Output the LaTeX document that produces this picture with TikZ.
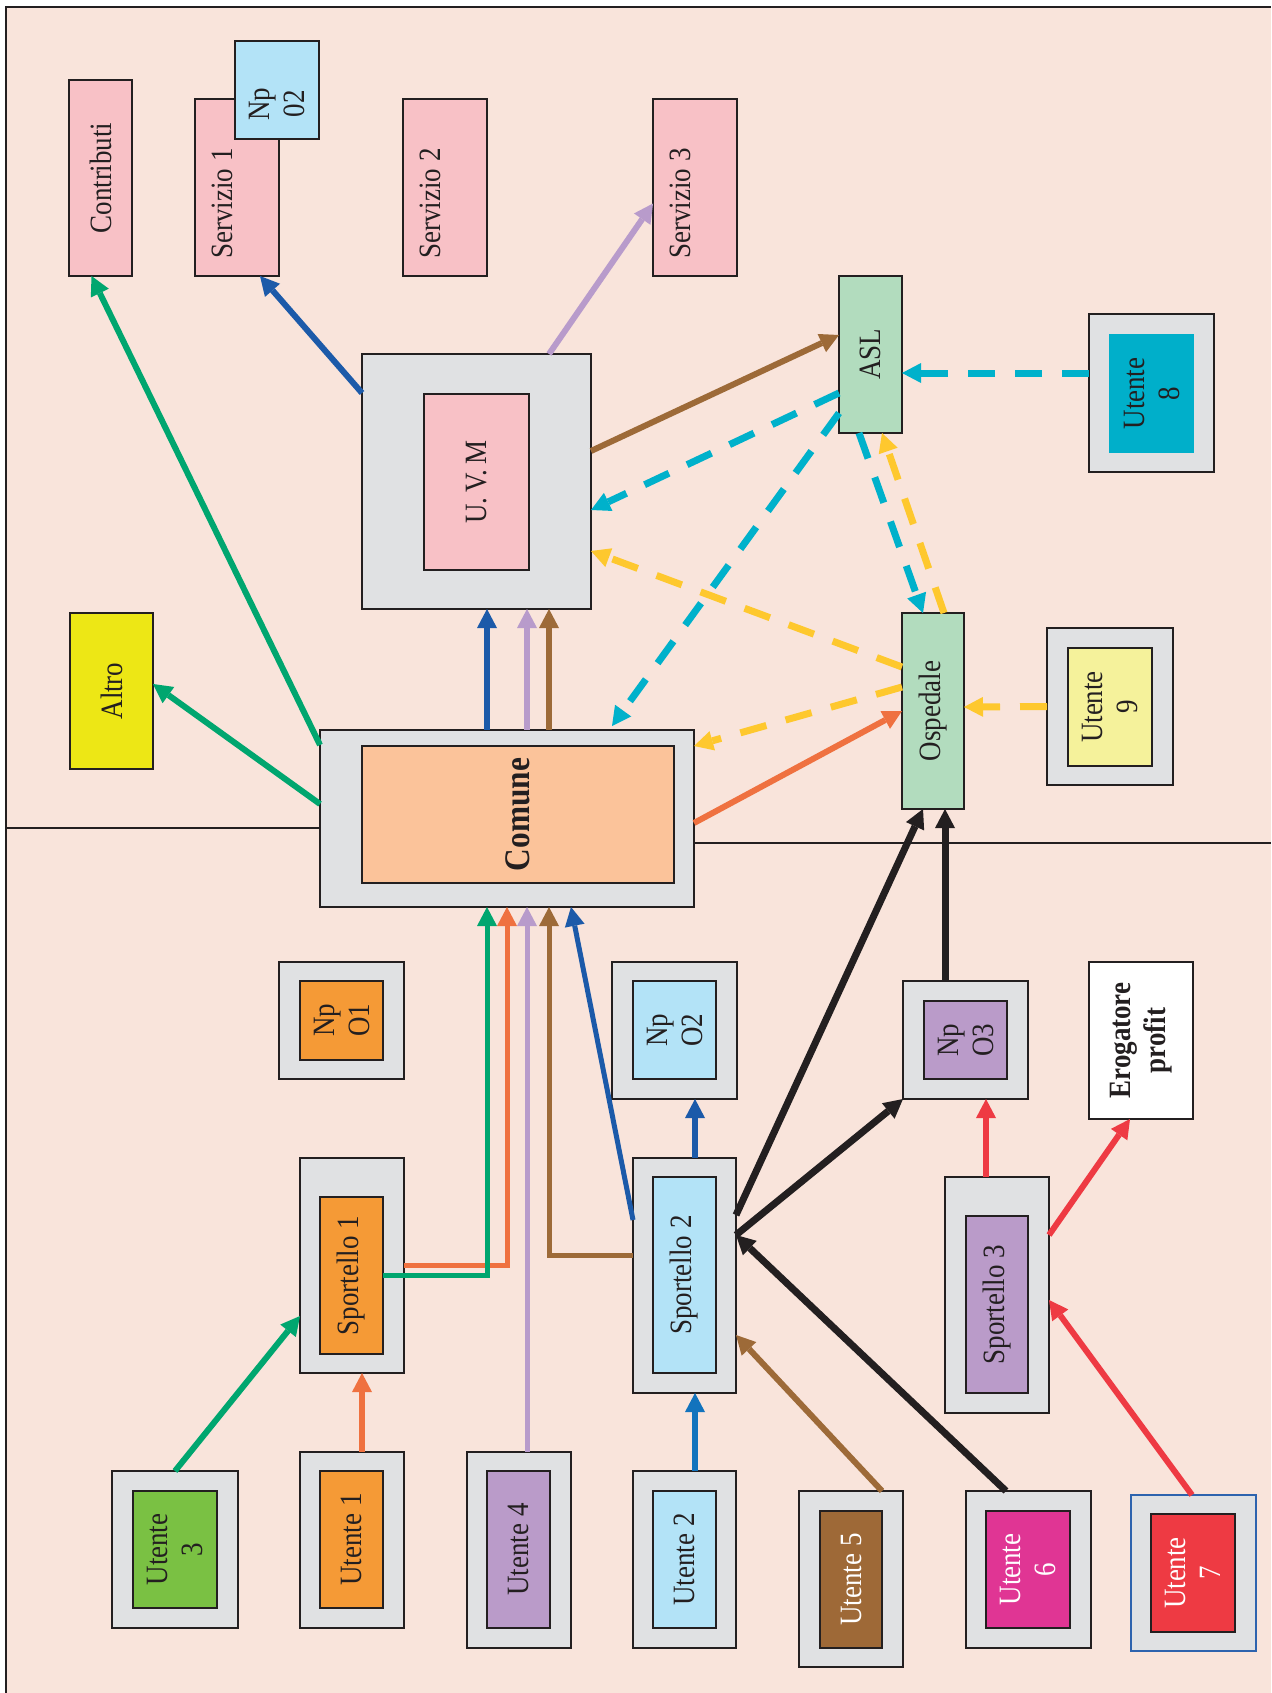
\documentclass[tikz,border=0pt]{standalone}
\usepackage{fontspec}
\setmainfont{Liberation Serif}
\newfontfamily\labelfont[FakeStretch=0.87]{Liberation Serif}
\usetikzlibrary{arrows.meta,calc}

% fills
\definecolor{bgc}{HTML}{F9E4DB}
\definecolor{linec}{HTML}{231F20}
\definecolor{grayc}{HTML}{E0E1E3}
\definecolor{pinkc}{HTML}{F8C1C6}
\definecolor{skyc}{HTML}{B3E3F7}
\definecolor{mintc}{HTML}{B2DCBE}
\definecolor{altroc}{HTML}{EDE715}
\definecolor{peachc}{HTML}{FBC39A}
\definecolor{orangec}{HTML}{F59A36}
\definecolor{lilacc}{HTML}{BA9BC9}
\definecolor{leafc}{HTML}{7AC143}
\definecolor{brownc}{HTML}{9E6937}
\definecolor{magentac}{HTML}{E03594}
\definecolor{redc}{HTML}{EE3A43}
\definecolor{cyanc}{HTML}{00AFCA}
\definecolor{lemonc}{HTML}{F5F29B}
\definecolor{u7edge}{HTML}{2E63AE}
% connector colours
\definecolor{agreen}{HTML}{00A66F}
\definecolor{ablue}{HTML}{1C5AA9}
\definecolor{ablue2}{HTML}{1273BD}
\definecolor{alilac}{HTML}{B89BCB}
\definecolor{abrown}{HTML}{9D6A38}
\definecolor{aorange}{HTML}{EF7140}
\definecolor{acyan}{HTML}{00B1CB}
\definecolor{ayellow}{HTML}{FEC82E}
\definecolor{ablack}{HTML}{231F20}
\definecolor{ared}{HTML}{EE3A43}

% a box given by its corners (x1,y1) (x2,y2), y growing downwards
\newcommand\placebox[6]{%
  \node[#2, minimum width={#5-#3}, minimum height={#6-#4}] (#1) at ({(#3+#5)/2},{(#4+#6)/2}) {};}

\tikzset{
  boxbase/.style={rectangle, inner sep=0pt, outer sep=0pt, draw=linec, line width=1.3pt},
  shell/.style={boxbase, fill=grayc},
  card/.style={boxbase, fill=#1},
  bare/.style={rectangle, inner sep=0pt, outer sep=0pt, fill=#1},
  lbl/.style={rotate=90, text=linec, font=\labelfont\fontsize{31}{35}\selectfont, align=center, inner sep=0pt},
  wlbl/.style={lbl, text=white},
  boldlbl/.style={lbl, font=\labelfont\bfseries\fontsize{31}{35}\selectfont},
  link/.style={line width=#1, -{Triangle[length=19pt,width=20pt,line width=0pt]}},
  link/.default=6pt,
  dlink/.style={line width=7pt, dash pattern=on 27pt off 20pt, -{Triangle[length=19pt,width=20pt,line width=0pt]}},
}

\begin{document}
\begin{tikzpicture}[x=1pt,y=-1pt]
\useasboundingbox (0,0) rectangle (1271,1693);
\fill[white] (0,0) rectangle (1271,1693);
\fill[bgc] (6,7) rectangle (1271,1693);
\draw[linec, line width=1.3pt] (6,1693) -- (6,7) -- (1271,7);

% upper band
\placebox{contrib}{card=pinkc}{69}{80}{132}{276}
\placebox{serv1}{card=pinkc}{195}{99}{279}{276}
\placebox{np02}{card=skyc}{235}{41}{319}{139}
\placebox{serv2}{card=pinkc}{403}{99}{487}{276}
\placebox{serv3}{card=pinkc}{653}{99}{737}{276}
\placebox{altro}{card=altroc}{70}{613}{153}{769}
\placebox{uvmout}{shell}{362}{354}{591}{609}
\placebox{uvmin}{card=pinkc}{424}{394}{529}{570}
\placebox{asl}{card=mintc}{839}{276}{902}{433}
\placebox{u8out}{shell}{1089}{314}{1214}{472}
\placebox{u8in}{bare=cyanc}{1109}{334}{1194}{453}
\placebox{osp}{card=mintc}{902}{613}{964}{809}
\placebox{u9out}{shell}{1047}{628}{1173}{785}
\placebox{u9in}{card=lemonc}{1068}{648}{1152}{766}
\placebox{comout}{shell}{320}{730}{694}{907}
\placebox{comin}{card=peachc}{362}{746}{674}{883}

% lower band
\placebox{np1out}{shell}{279}{962}{404}{1079}
\placebox{np1in}{card=orangec}{300}{981}{383}{1060}
\placebox{sp1out}{shell}{300}{1158}{404}{1373}
\placebox{sp1in}{card=orangec}{320}{1197}{383}{1354}
\placebox{np2out}{shell}{612}{962}{737}{1099}
\placebox{np2in}{card=skyc}{633}{981}{716}{1079}
\placebox{sp2out}{shell}{633}{1158}{736}{1393}
\placebox{sp2in}{card=skyc}{653}{1177}{716}{1373}
\placebox{np3out}{shell}{903}{981}{1028}{1099}
\placebox{np3in}{card=lilacc}{924}{1001}{1007}{1079}
\placebox{erog}{card=white}{1089}{962}{1193}{1119}
\placebox{sp3out}{shell}{945}{1177}{1049}{1413}
\placebox{sp3in}{card=lilacc}{966}{1216}{1028}{1393}
\placebox{u3out}{shell}{112}{1471}{238}{1628}
\placebox{u3in}{card=leafc}{133}{1491}{217}{1608}
\placebox{u1out}{shell}{300}{1452}{404}{1628}
\placebox{u1in}{card=orangec}{320}{1471}{383}{1608}
\placebox{u4out}{shell}{467}{1452}{571}{1648}
\placebox{u4in}{card=lilacc}{487}{1471}{550}{1628}
\placebox{u2out}{shell}{633}{1471}{736}{1648}
\placebox{u2in}{card=skyc}{653}{1491}{716}{1628}
\placebox{u5out}{shell}{799}{1491}{903}{1667}
\placebox{u5in}{card=brownc}{820}{1511}{882}{1648}
\placebox{u6out}{shell}{966}{1491}{1091}{1648}
\placebox{u6in}{card=magentac}{986}{1511}{1070}{1628}
\placebox{u7out}{shell, draw=u7edge}{1131}{1495}{1256}{1651}
\placebox{u7in}{card=redc}{1151}{1514}{1235}{1632}

% band dividers
\coordinate (divL) at (6,828);
\coordinate (divR) at (1271,843);
\draw[linec, line width=1.3pt] (divL) -- (divL -| comout.west);
\draw[linec, line width=1.3pt] (comout.east |- divR) -- (divR);

% labels
\node[lbl] (lcontrib) at (contrib) {Contributi};
\node[lbl] (lserv1) at ([xshift=-15pt,yshift=-16pt]serv1.center) {Servizio 1};
\node[lbl] (lnp02) at ([yshift=-14pt]np02.center) {Np\\02};
\node[lbl] (lserv2) at ([xshift=-15pt,yshift=-16pt]serv2.center) {Servizio 2};
\node[lbl] (lserv3) at ([xshift=-15pt,yshift=-16pt]serv3.center) {Servizio 3};
\node[lbl] (laltro) at (altro) {Altro};
\node[lbl] (luvm) at (uvmin) {U.\,V.\,M};
\node[lbl] (lasl) at (asl) {ASL};
\node[lbl] (lu8) at (u8in) {Utente\\8};
\node[lbl] (losp) at (osp) {Ospedale};
\node[lbl] (lu9) at (u9in) {Utente\\9};
\node[lbl, font=\labelfont\bfseries\fontsize{36}{40}\selectfont] (lcom) at (comin) {Comune};
\node[lbl] (lnp1) at (np1in) {Np\\O1};
\node[lbl] (lsp1) at (sp1in) {Sportello 1};
\node[lbl] (lnp2) at (np2in) {Np\\O2};
\node[lbl] (lsp2) at (sp2in) {Sportello 2};
\node[lbl] (lnp3) at (np3in) {Np\\O3};
\node[boldlbl] (lerog) at (erog) {Erogatore\\profit};
\node[lbl] (lsp3) at (sp3in) {Sportello 3};
\node[lbl] (lu3) at (u3in) {Utente\\3};
\node[lbl] (lu1) at (u1in) {Utente 1};
\node[lbl] (lu4) at (u4in) {Utente 4};
\node[lbl] (lu2) at (u2in) {Utente 2};
\node[wlbl] (lu5) at (u5in) {Utente 5};
\node[wlbl] (lu6) at (u6in) {Utente\\6};
\node[wlbl] (lu7) at (u7in) {Utente\\7};

% Comune towards the upper band
\draw[link, agreen] ([yshift=-15pt]comout.north west) -- ([xshift=-9pt]contrib.south);
\draw[link, agreen] ([yshift=-74pt]comout.north west) -- ([yshift=7pt]altro.east);
\draw[link, ablue] ([xshift=167pt]comout.north west) -- ([xshift=125pt]uvmout.south west);
\draw[link, alilac] ([xshift=207pt]comout.north west) -- ([xshift=165pt]uvmout.south west);
\draw[link, abrown] ([xshift=229pt]comout.north west) -- ([xshift=187pt]uvmout.south west);
\draw[link, ablue] ([yshift=-39pt]uvmout.north west) -- ([xshift=23pt]serv1.south);
\draw[link, alilac] ([xshift=-42pt]uvmout.north east) -- ([yshift=-16pt]serv3.west);
\draw[link, abrown] ([yshift=-97pt]uvmout.north east) -- ([yshift=19.5pt]asl.west);
\draw[link, aorange] ([yshift=-93pt]comout.north east) -- (osp.west);

% dashed flows between ASL, Ospedale, U.V.M and Comune
\draw[dlink, acyan] ([yshift=20pt]u8out.west) -- ([yshift=-18.5pt]asl.east);
\draw[dlink, acyan] ([yshift=-38.5pt]asl.west) -- ([yshift=-156pt]uvmout.north east);
\draw[dlink, acyan] ([yshift=-58.5pt]asl.west) -- ([xshift=-82pt,yshift=4pt]comout.north east);
\draw[dlink, acyan] ([xshift=-11.5pt]asl.south) -- ([xshift=-10pt]osp.north);
\draw[dlink, ayellow] ([xshift=11pt]osp.north) -- ([xshift=11.5pt]asl.south);
\draw[dlink, ayellow] ([yshift=44pt]osp.west) -- ([yshift=-197pt]uvmout.north east);
\draw[dlink, ayellow] ([yshift=24pt]osp.west) -- ([yshift=-16pt]comout.north east);
\draw[dlink, ayellow] (u9out.west) -- ([yshift=4pt]osp.east);

% lower band into Comune
\draw[link=5pt, aorange, line join=miter] (sp1out.east) -| ([xshift=187pt]comout.south west);
\draw[link=5pt, agreen, line join=miter] (sp1in.east) -| ([xshift=167pt]comout.south west);
\draw[link=5pt, alilac] ([xshift=8pt]u4out.north) -- ([xshift=207pt]comout.south west);
\draw[link=5pt, abrown, line join=miter] ([yshift=20.5pt]sp2out.west) -| ([xshift=229pt]comout.south west);
\draw[link=5pt, ablue] ([yshift=55.5pt]sp2out.west) -- ([xshift=251pt]comout.south west);

% users to desks, desks onwards
\draw[link, agreen] (u3out.north) -- ([yshift=-50.5pt]sp1out.west);
\draw[link, aorange] ([xshift=10pt]u1out.north) -- ([xshift=10pt]sp1out.south);
\draw[link, ablue2] ([xshift=10.5pt]u2out.north) -- ([xshift=10.5pt]sp2out.south);
\draw[link, ablue] ([xshift=10.5pt]sp2out.north) -- ([xshift=20.5pt]np2out.south);
\draw[link, abrown] ([xshift=31pt]u5out.north) -- ([yshift=-59.5pt]sp2out.east);
\draw[link=7pt, ablack] ([xshift=-22.5pt]u6out.north) -- ([yshift=40.5pt]sp2out.east);
\draw[link=7pt, ablack] ([yshift=60.5pt]sp2out.east) -- ([xshift=-10pt]osp.south);
\draw[link=7pt, ablack] ([yshift=40.5pt]sp2out.east) -- (np3out.south west);
\draw[link=7pt, ablack] ([xshift=-20.5pt]np3out.north) -- ([xshift=12pt]osp.south);
\draw[link, ared] ([xshift=-11pt]sp3out.north) -- ([xshift=20.5pt]np3out.south);
\draw[link, ared] ([yshift=60pt]sp3out.east) -- ([xshift=-11pt]erog.south);
\draw[link, ared] ([xshift=-1.5pt]u7out.north) -- ([yshift=-5pt]sp3out.east);
\end{tikzpicture}
\end{document}
